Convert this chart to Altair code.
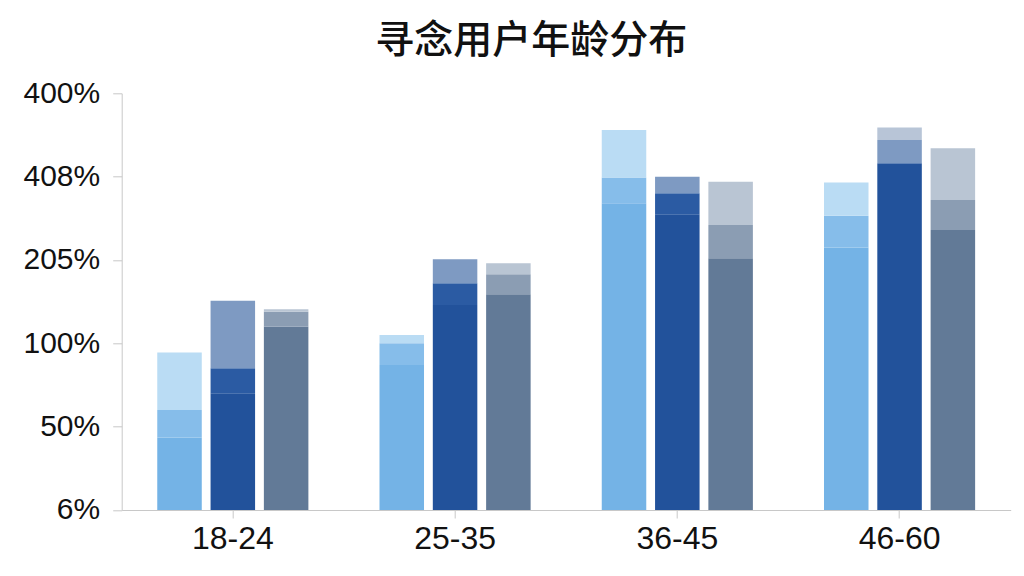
import altair as alt
import pandas as pd

# ---- data (values in y-axis tick units: 0..5, one unit per labelled tick) ----
groups = ["18-24", "25-35", "36-45", "46-60"]
tick_labels = ["6%", "50%", "100%", "205%", "408%", "400%"]
tick_values = [0, 1, 2, 3, 4, 5]

# series A (light blue) cumulative segment tops
A_base = [0.87, 1.74, 3.68, 3.15]
A_mid = [1.20, 2.00, 3.99, 3.53]
A_top = [1.89, 2.10, 4.56, 3.93]

# series B (dark blue)
B_base = [1.40, 2.46, 3.55, 4.16]
B_mid = [1.70, 2.72, 3.80, 4.16]
B_upper = [2.51, 3.01, 4.00, 4.44]
B_top = [2.51, 3.01, 4.00, 4.59]

# series C (slate)
C_base = [2.20, 2.59, 3.02, 3.36]
C_mid = [2.38, 2.83, 3.42, 3.72]
C_top = [2.41, 2.96, 3.94, 4.34]

series = {
    "A": [("A0", A_base, "#74b3e6"), ("A1", A_mid, "#86bdea"), ("A2", A_top, "#badcf4")],
    "B": [("B0", B_base, "#22529b"), ("B1", B_mid, "#2b5ba3"), ("B2", B_upper, "#7e9ac2"), ("B3", B_top, "#b8c5d7")],
    "C": [("C0", C_base, "#627a97"), ("C1", C_mid, "#8b9db3"), ("C2", C_top, "#b9c5d3")],
}

rows = []
keys, colors = [], []
for s, levels in series.items():
    for key, vals, col in levels:
        keys.append(key)
        colors.append(col)
    for gi, g in enumerate(groups):
        prev = 0.0
        for key, vals, col in levels:
            v = vals[gi]
            if v > prev:
                rows.append({"group": g, "series": s, "key": key, "y0": prev, "y1": v})
            prev = max(prev, v)

df = pd.DataFrame(rows)

label_expr = "[" + ",".join('"%s"' % t for t in tick_labels) + "][datum.value]"

chart = alt.Chart(df).mark_bar().encode(
    x=alt.X("group:N", sort=groups,
            scale=alt.Scale(paddingInner=0, paddingOuter=0),
            axis=alt.Axis(title=None, labelAngle=0, labelFontSize=32, labelColor="#111111",
                          labelFont="Liberation Sans", tickSize=8, tickColor="#c8c8c8",
                          domainColor="#c8c8c8", labelPadding=6)),
    xOffset=alt.XOffset("series:N", sort=["A", "B", "C"],
                        scale=alt.Scale(paddingInner=0.165, paddingOuter=0.667)),
    y=alt.Y("y1:Q", scale=alt.Scale(domain=[0, 5], nice=False, zero=True),
            axis=alt.Axis(title=None, values=tick_values, labelExpr=label_expr, grid=False,
                          labelFontSize=30, labelColor="#111111", labelFont="Liberation Sans",
                          tickSize=9, tickColor="#c8c8c8", domainColor="#c8c8c8",
                          labelPadding=13)),
    y2="y0:Q",
    color=alt.Color("key:N", scale=alt.Scale(domain=keys, range=colors), legend=None),
).properties(
    width=889,
    height=416.7,
    autosize=alt.AutoSizeParams(type="none"),
    padding={"left": 113.7, "top": 85.3, "right": 5, "bottom": 50},
    title=alt.TitleParams("寻念用户年龄分布", fontSize=39, font="Noto Sans CJK SC",
                          fontWeight=500, color="#111111", frame="group", anchor="middle",
                          dx=-35, offset=17),
).configure_view(stroke=None)

chart.save("out.html", embed_options={"renderer": "svg", "actions": False})
